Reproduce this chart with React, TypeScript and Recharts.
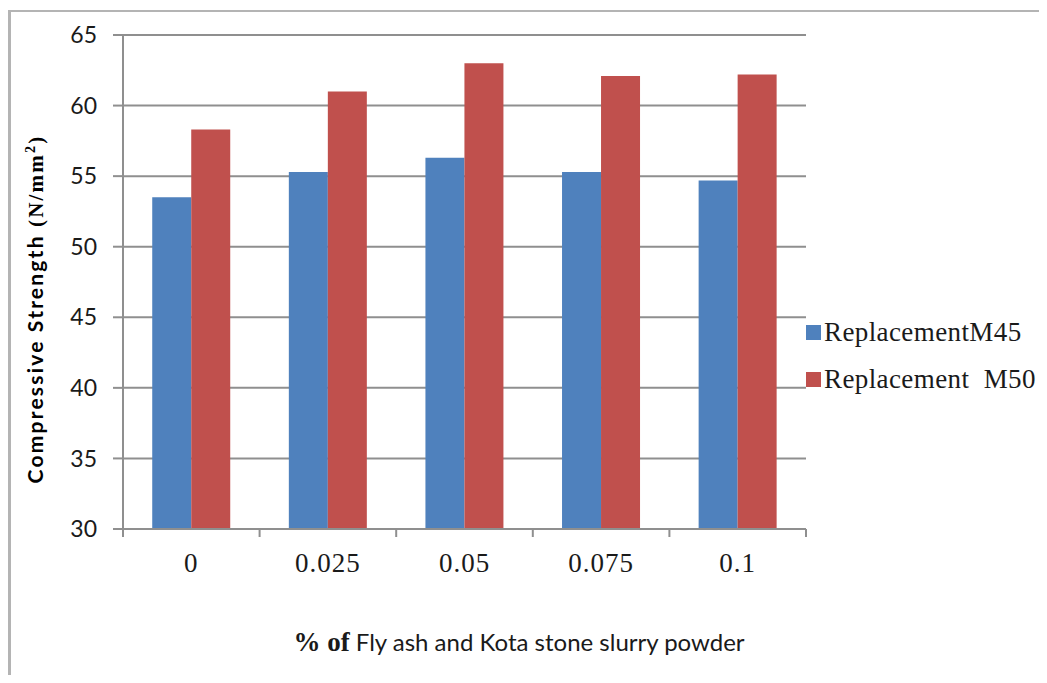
import { Bar, BarChart, CartesianGrid, XAxis, YAxis } from "recharts";

const categories = ["0", "0.025", "0.05", "0.075", "0.1"];
const m45 = [53.5, 55.3, 56.3, 55.3, 54.7];
const m50 = [58.3, 61.0, 63.0, 62.1, 62.2];
const yTicks = [30, 35, 40, 45, 50, 55, 60, 65];

const SERIES = [
  { key: "m45", label: "ReplacementM45", color: "#4F81BD" },
  { key: "m50", label: "Replacement\u00a0 M50", color: "#C0504D" },
];

const W = 1047;
const H = 683;
const MARGIN = { top: 35, right: 241, left: 0, bottom: 94 };
const YAXIS_W = 123;
const PLOT_W = W - MARGIN.left - YAXIS_W - MARGIN.right;
const GRID = "#8f8f8f";
const SANS = "Lato, 'Open Sans', sans-serif";
const SERIF = "'Liberation Serif', 'Times New Roman', serif";

const data = categories.map((c, i) => ({ cat: c, m45: m45[i], m50: m50[i] }));

function XTick(props: any) {
  const { x, y, payload, index, visibleTicksCount } = props;
  const half = payload?.offset || PLOT_W / categories.length / 2;
  const last = index === (visibleTicksCount ?? categories.length) - 1;
  return (
    <g>
      <line x1={x - half} x2={x - half} y1={y - 8} y2={y} stroke={GRID} strokeWidth={2} />
      {last && (
        <line x1={x + half} x2={x + half} y1={y - 8} y2={y} stroke={GRID} strokeWidth={2} />
      )}
      <text
        x={x}
        y={y + 35}
        textAnchor="middle"
        fontFamily={SERIF}
        fontSize={27}
        letterSpacing={1}
        fill="#1a1a1a"
      >
        {payload.value}
      </text>
    </g>
  );
}

export default function App() {
  return (
    <div style={{ position: "relative", width: W, height: H, margin: -8, background: "#fff", overflow: "hidden" }}>
      <div
        style={{
          position: "absolute",
          left: 8,
          top: 10,
          width: W,
          height: H,
          borderLeft: "3px solid #b4b4b4",
          borderTop: "2px solid #b4b4b4",
        }}
      />
      <BarChart
        width={W}
        height={H}
        data={data}
        margin={MARGIN}
        barCategoryGap="21.4%"
        barGap={0}
        style={{ position: "absolute", left: 0, top: 0 }}
      >
        <CartesianGrid vertical={false} stroke={GRID} strokeWidth={2} />
        <XAxis
          dataKey="cat"
          height={60}
          tickLine={false}
          tickSize={8}
          tickMargin={0}
          axisLine={{ stroke: GRID, strokeWidth: 2 }}
          tick={<XTick />}
          interval={0}
        />
        <YAxis
          width={YAXIS_W}
          domain={[30, 65]}
          ticks={yTicks}
          allowDataOverflow
          tickSize={10}
          tickMargin={16}
          tickLine={{ stroke: GRID, strokeWidth: 2 }}
          axisLine={{ stroke: GRID, strokeWidth: 2 }}
          tick={{ fontFamily: SANS, fontSize: 23, fill: "#1a1a1a" }}
        />
        {SERIES.map((s) => (
          <Bar key={s.key} dataKey={s.key} fill={s.color} isAnimationActive={false} />
        ))}
      </BarChart>

      <div
        style={{
          position: "absolute",
          left: 35,
          top: 309,
          transform: "translate(-50%, -50%) rotate(-90deg)",
          whiteSpace: "nowrap",
          fontFamily: SANS,
          fontWeight: 700,
          fontSize: 21,
          letterSpacing: 2.2,
          color: "#000",
        }}
      >
        Compressive Strength{" "}
        <span style={{ fontFamily: SERIF }}>
          (N/mm<sup style={{ fontSize: 14 }}>2</sup>)
        </span>
      </div>

      <div
        style={{
          position: "absolute",
          left: 519,
          top: 627,
          transform: "translateX(-50%)",
          whiteSpace: "nowrap",
          fontFamily: SANS,
          fontSize: 24,
          lineHeight: "30px",
          color: "#1a1a1a",
        }}
      >
        <span style={{ fontFamily: SERIF, fontWeight: 700, fontSize: 27 }}>% of</span> Fly ash and Kota stone slurry powder
      </div>

      <div style={{ position: "absolute", left: 806, top: 309 }}>
        {SERIES.map((s) => (
          <div
            key={s.key}
            style={{
              display: "flex",
              alignItems: "center",
              height: 47,
              fontFamily: SERIF,
              fontSize: 27,
              letterSpacing: 0.4,
              color: "#1a1a1a",
              whiteSpace: "nowrap",
            }}
          >
            <span style={{ display: "inline-block", width: 15, height: 15, background: s.color, marginRight: 3 }} />
            {s.label}
          </div>
        ))}
      </div>
    </div>
  );
}
